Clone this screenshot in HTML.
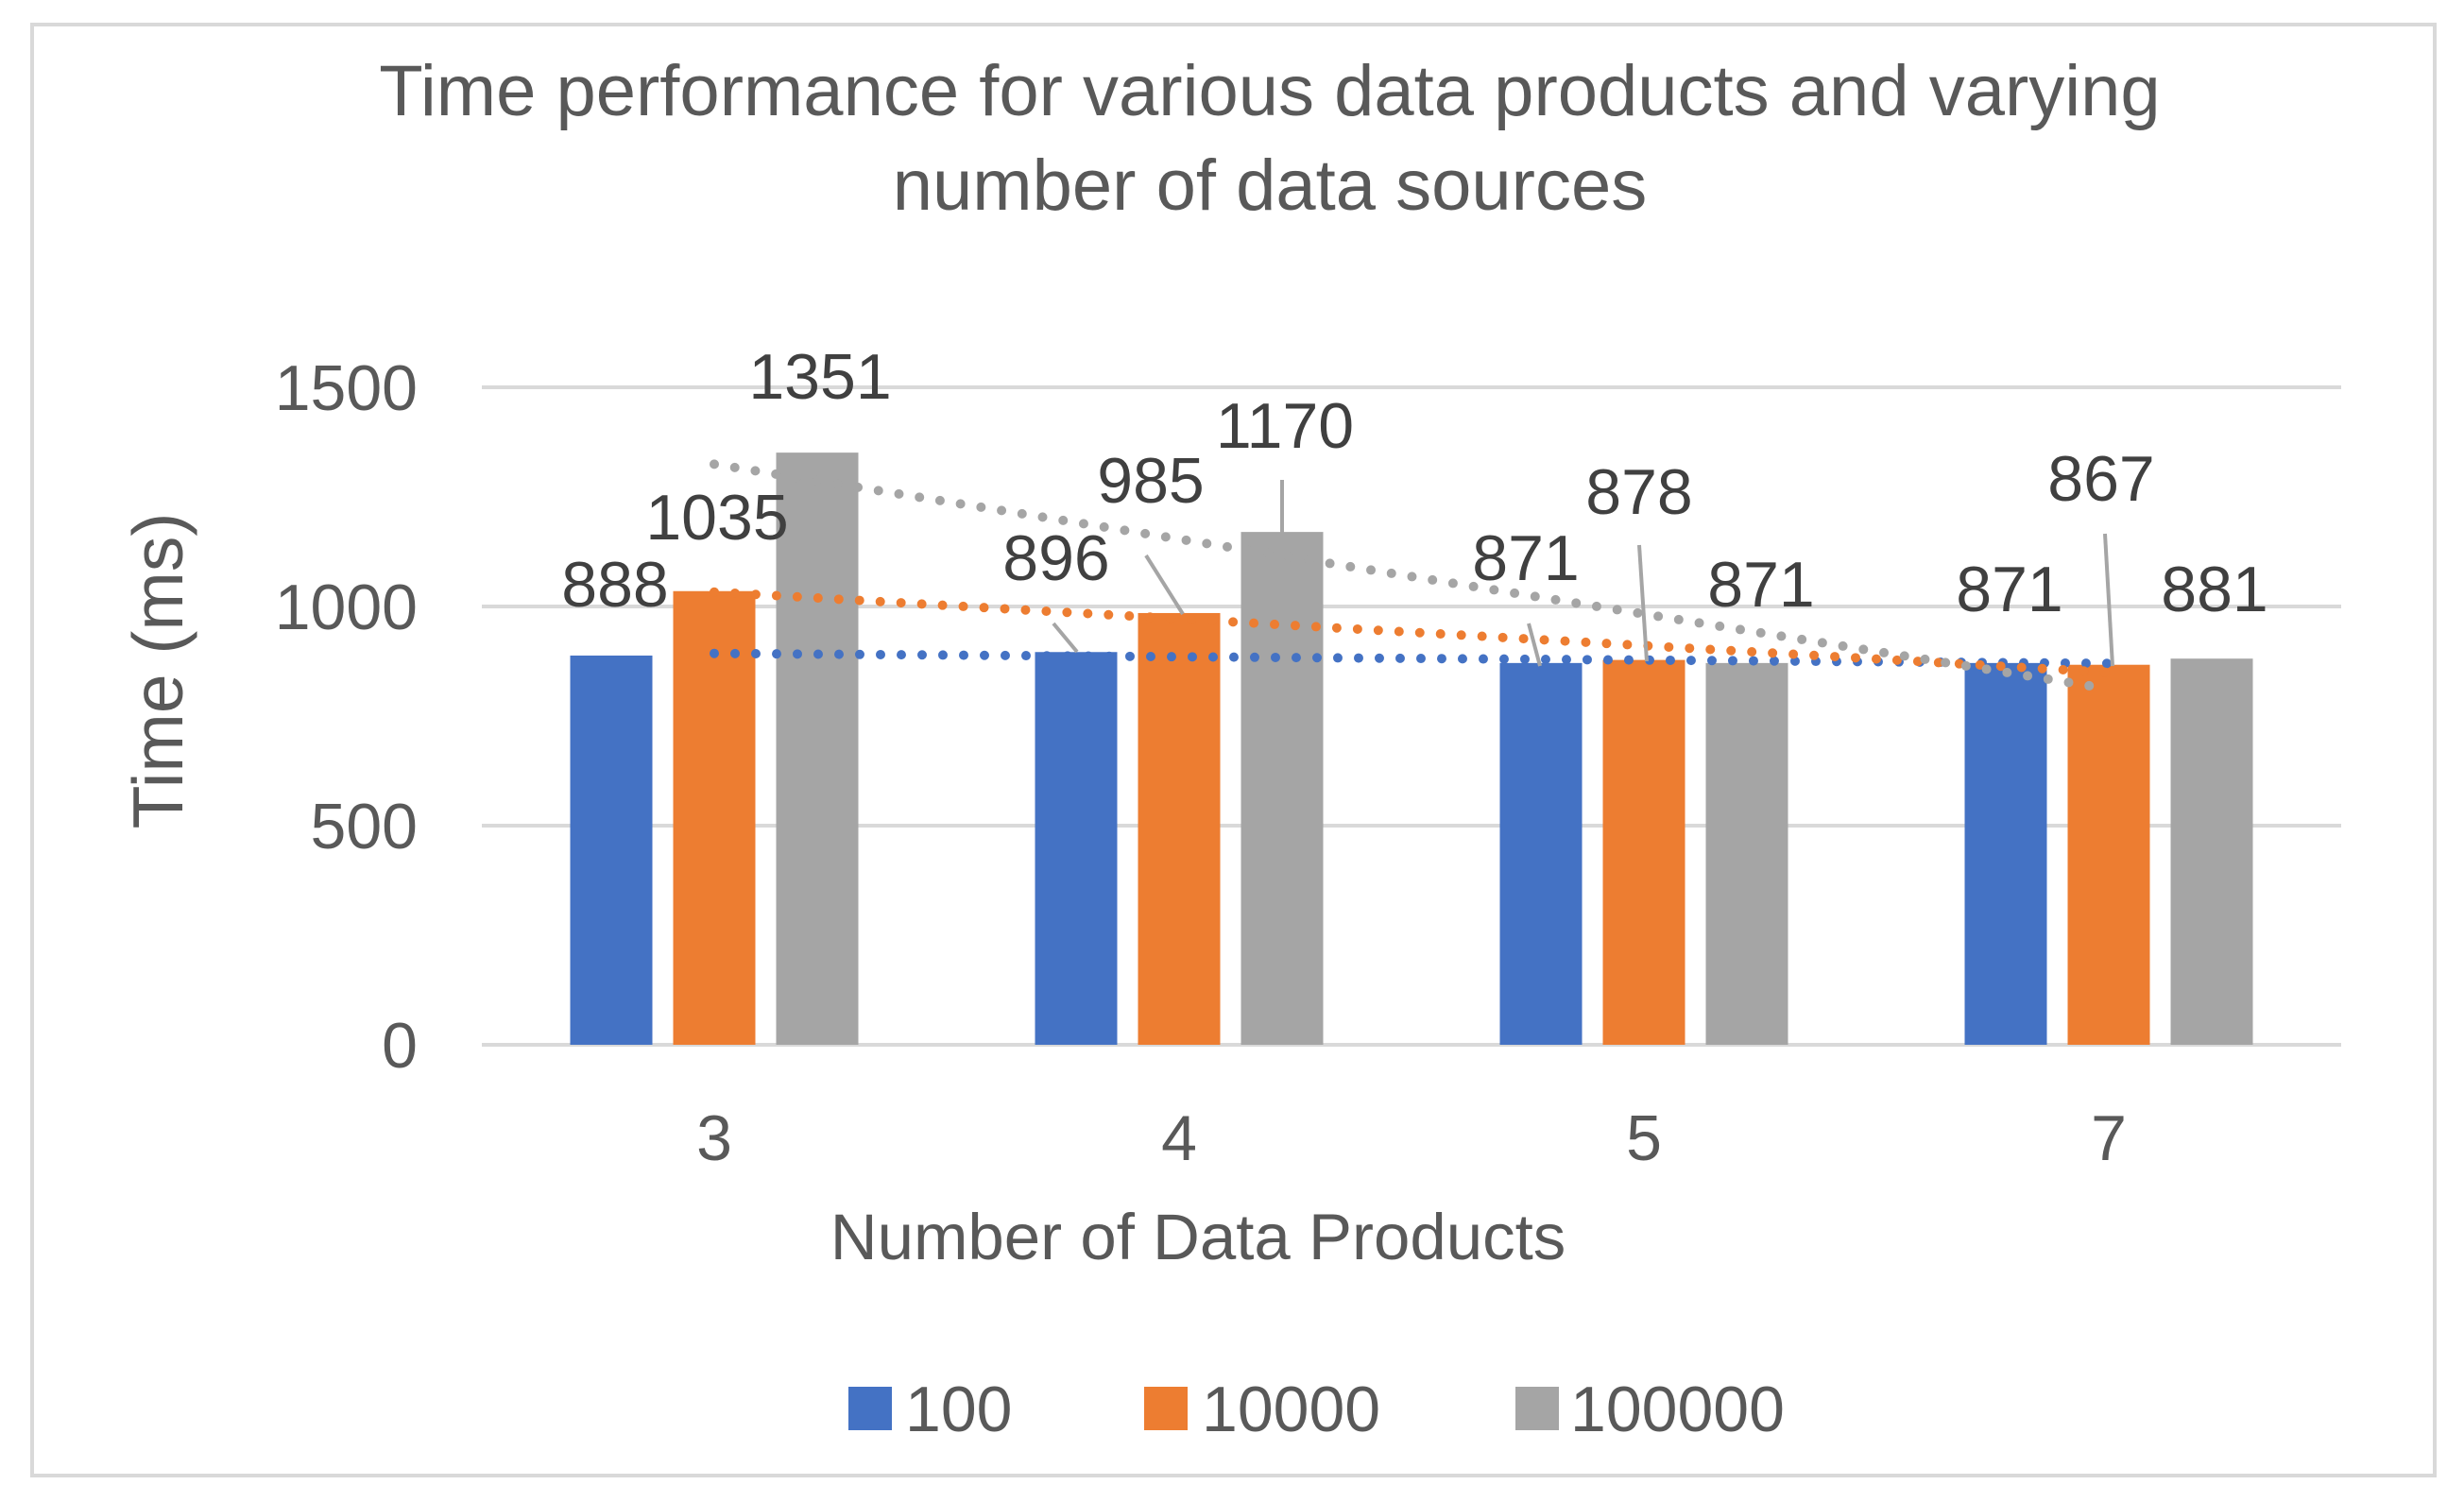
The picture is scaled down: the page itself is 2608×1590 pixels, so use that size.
<!DOCTYPE html>
<html><head><meta charset="utf-8"><style>
html,body{margin:0;padding:0;background:#fff}
svg{display:block;font-family:"Liberation Sans",sans-serif}
</style></head><body>
<svg id="chart" width="2608" height="1590" viewBox="0 0 2608 1590">
<rect x="34" y="26" width="2543" height="1536" fill="#fff" stroke="#D9D9D9" stroke-width="4"/>
<text x="1344" y="122" text-anchor="middle" font-size="76" fill="#595959">Time performance for various data products and varying</text>
<text x="1344" y="222" text-anchor="middle" font-size="76" fill="#595959">number of data sources</text>
<g id="grid"></g><g id="bars"></g><g id="trends"></g><g id="labels"></g>
<text x="1268" y="1333" text-anchor="middle" font-size="69" fill="#595959">Number of Data Products</text>
<text transform="translate(193,710) rotate(-90)" text-anchor="middle" font-size="75" fill="#595959">Time (ms)</text>
<g>
<rect x="898" y="1468" width="46" height="46" fill="#4472C4"/>
<text x="958" y="1515" font-size="68" fill="#595959">100</text>
<rect x="1211" y="1468" width="46" height="46" fill="#ED7D31"/>
<text x="1272" y="1515" font-size="68" fill="#595959">10000</text>
<rect x="1604" y="1468" width="46" height="46" fill="#A5A5A5"/>
<text x="1662" y="1515" font-size="68" fill="#595959">100000</text>
</g>
</svg>
<script>
const categories = ["3","4","5","7"];
const series100 = [888, 896, 871, 871];
const series10000 = [1035, 985, 878, 867];
const series100000 = [1351, 1170, 871, 881];
const yTicks = [0, 500, 1000, 1500];

const NS = "http://www.w3.org/2000/svg";
const left = 510, right = 2478, y0 = 1106, yTop = 410, yMax = 1500;
const bandW = (right - left) / categories.length;
const y = v => y0 - (v / yMax) * (y0 - yTop);
const xc = i => left + bandW * (i + 0.5);
const barW = 87, step = 109;
function mk(tag, attrs, parent){const e=document.createElementNS(NS,tag);for(const k in attrs)e.setAttribute(k,attrs[k]);parent.appendChild(e);return e;}
const grid=document.getElementById('grid'), bars=document.getElementById('bars'), trends=document.getElementById('trends'), labels=document.getElementById('labels');
yTicks.forEach(t=>{
  const l=mk('line',{x1:left,x2:right,y1:y(t),y2:y(t),stroke:'#D9D9D9','stroke-width':4},grid);
  
  
  const tx=mk('text',{x:442,y:y(t)+24,'text-anchor':'end','font-size':68,fill:'#595959'},grid);
  tx.textContent=t;
  
  
});
categories.forEach((c,i)=>{
  const tx=mk('text',{x:xc(i),y:1228,'text-anchor':'middle','font-size':68,fill:'#595959'},grid);
  tx.textContent=c;
  
  
});
const allSeries=[{d:series100,c:'#4472C4',n:'100'},{d:series10000,c:'#ED7D31',n:'10000'},{d:series100000,c:'#A5A5A5',n:'100000'}];
allSeries.forEach((s,si)=>{
  s.d.forEach((v,i)=>{
    const bx=xc(i)+(si-1)*step-barW/2;
    const r=mk('rect',{x:bx,y:y(v),width:barW,height:y0-y(v),fill:s.c},bars);
    
    
  });
  const n=s.d.length, mx=(n-1)/2, my=s.d.reduce((a,b)=>a+b,0)/n;
  let num=0,den=0; s.d.forEach((v,i)=>{num+=(i-mx)*(v-my);den+=(i-mx)*(i-mx);});
  const sl=num/den, b=my-sl*mx;
  const tl=mk('line',{x1:xc(0),y1:y(b),x2:xc(n-1),y2:y(b+sl*(n-1)),stroke:s.c,'stroke-width':10,'stroke-linecap':'round','stroke-dasharray':'0 22'},trends);
  
  
});
const labelPos = [
  [[651,618,null],[1118,590,[1115,660,1140,690]],[1615,590,[1618,660,1630,705]],[2127,623,null]],
  [[759,547,null],[1218,508,[1213,588,1252,650]],[1735,520,[1735,577,1743,700]],[2224,506,[2228,565,2236,705]]],
  [[868,398,null],[1360,450,[1357,508,1357,565]],[1864,618,null],[2344,623,null]]
];
allSeries.forEach((s,si)=>{
  s.d.forEach((v,i)=>{
    const p=labelPos[si][i];
    if(p[2]){const ld=mk('line',{x1:p[2][0],y1:p[2][1],x2:p[2][2],y2:p[2][3],stroke:'#A5A5A5','stroke-width':4},labels);
      
      }
    const t=mk('text',{x:p[0],y:p[1]+24,'text-anchor':'middle','font-size':68,fill:'#404040'},labels);
    t.textContent=v;
    
    
  });
});
</script>
</body></html>
